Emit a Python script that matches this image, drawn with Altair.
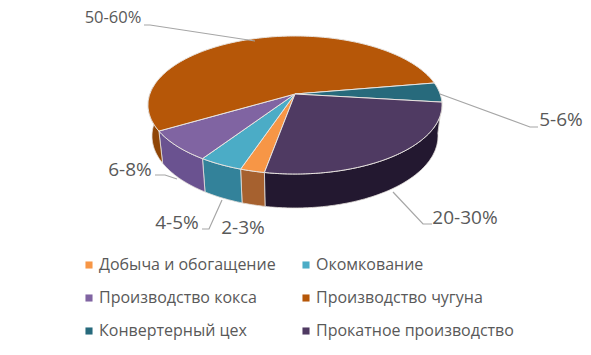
import math
import altair as alt

categories = ["Добыча и обогащение", "Окомкование", "Производство кокса",
              "Производство чугуна", "Конвертерный цех", "Прокатное производство"]
shares = [2.7, 4.8, 8.0, 51.0, 4.5, 29.0]
labels = ["2-3%", "4-5%", "6-8%", "50-60%", "5-6%", "20-30%"]
face_colors = ["#F79646", "#4BACC6", "#8064A2", "#B65708", "#276A7C", "#4F3A62"]
wall_colors = ["#A6612F", "#33829A", "#6A5290", "#8F4506", "#1E5261", "#231830"]

label_x = [243, 177, 130, 113, 561, 465]
label_y = [228, 223, 170, 18, 120, 218]
leaders = [
    [],
    [(222, 200), (209, 229), (202, 229)],
    [(155, 175), (165, 175), (177, 179)],
    [(144, 25), (150, 25), (255, 41)],
    [(440, 94), (530, 127), (538, 127)],
    [(393, 192), (423, 224), (432, 224)],
]

OX, OY = 8, 8          # page margin
CX, CY, RX, RY = 295, 105, 147, 69
APEX_Y = 94
BX, BY, BRX, BRY = 295, 136, 143, 72
START = 192.0


def top(a):
    r = math.radians(a)
    return (CX + RX * math.sin(r) - OX, -(CY - RY * math.cos(r) - OY))


def bottom(a):
    r = math.radians(a)
    return (BX + BRX * math.sin(r) - OX, -(BY - BRY * math.cos(r) - OY))


faces, walls = [], []
a0 = START
for name, s, fc, wc in zip(categories, shares, face_colors, wall_colors):
    a1 = a0 + s * 3.6
    n = max(4, int(a1 - a0))
    rim = [a0 + (a1 - a0) * i / n for i in range(n + 1)]
    apex = (CX - OX, -(APEX_Y - OY))
    ring = [apex] + [top(a) for a in rim] + [apex]
    faces.append({"type": "Feature", "properties": {"name": name},
                  "geometry": {"type": "Polygon", "coordinates": [[list(p) for p in ring]]}})
    for off in (0, 360):
        lo, hi = max(a0, 85 + off), min(a1, 285 + off)
        if lo < hi:
            m = max(4, int(hi - lo))
            w = [lo + (hi - lo) * i / m for i in range(m + 1)]
            pts = [top(a) for a in w] + [bottom(a) for a in reversed(w)]
            pts.append(pts[0])
            walls.append({"type": "Feature", "properties": {"wall": wc},
                          "geometry": {"type": "Polygon", "coordinates": [[list(p) for p in pts]]}})
    a0 = a1

proj = dict(type="identity", reflectY=True, scale=1, translate=[0, 0])

wall_layer = alt.Chart(alt.Data(values=walls)).mark_geoshape(
    stroke="#E4E0DC", strokeWidth=0.8
).encode(fill=alt.Fill("properties.wall:N", scale=None, legend=None)).project(**proj)

face_layer = alt.Chart(alt.Data(values=faces)).mark_geoshape(
    stroke="#E8E4E0", strokeWidth=1
).encode(
    fill=alt.Fill(
        "properties.name:N",
        scale=alt.Scale(domain=categories, range=face_colors),
        sort=categories,
        legend=alt.Legend(
            title=None, orient="none", legendX=73, legendY=249, columns=2, direction="horizontal",
            symbolType="square", symbolSize=50, symbolStrokeWidth=0,
            labelFont="Open Sans", labelFontSize=16, labelColor="#595959",
            labelOffset=2, rowPadding=17, columnPadding=22, labelLimit=260,
            gridAlign="each",
        ),
    )
).project(**proj)

line_rows = []
for lab, pts in zip(labels, leaders):
    for i, (x, y) in enumerate(pts):
        line_rows.append({"lab": lab, "i": i, "x": x - OX, "y": y - OY})
leader_layer = alt.Chart(alt.Data(values=line_rows)).mark_line(
    color="#A6A6A6", strokeWidth=1.2
).encode(
    x=alt.X("x:Q", scale=None, axis=None),
    y=alt.Y("y:Q", scale=None, axis=None),
    detail="lab:N", order="i:Q",
)

text_rows = [{"t": t, "x": x - OX, "y": y - OY} for t, x, y in zip(labels, label_x, label_y)]
text_base = alt.Chart(alt.Data(values=text_rows)).encode(
    x=alt.X("x:Q", scale=None, axis=None),
    y=alt.Y("y:Q", scale=None, axis=None),
    text="t:N",
)
text_small = text_base.transform_filter("datum.t === '50-60%'").mark_text(
    font="Open Sans", fontSize=16.5, color="#595959", align="center", baseline="middle"
)
text_large = text_base.transform_filter("datum.t !== '50-60%'").mark_text(
    font="Open Sans", fontSize=19, color="#595959", align="center", baseline="middle"
)

chart = alt.layer(wall_layer, face_layer, leader_layer, text_small, text_large).resolve_scale(
    fill="independent"
).properties(
    width=575, height=339, padding=0, autosize=alt.AutoSizeParams(type="none")
).configure_view(stroke=None)

chart.save("out.html", embed_options={"renderer": "svg", "actions": False})
